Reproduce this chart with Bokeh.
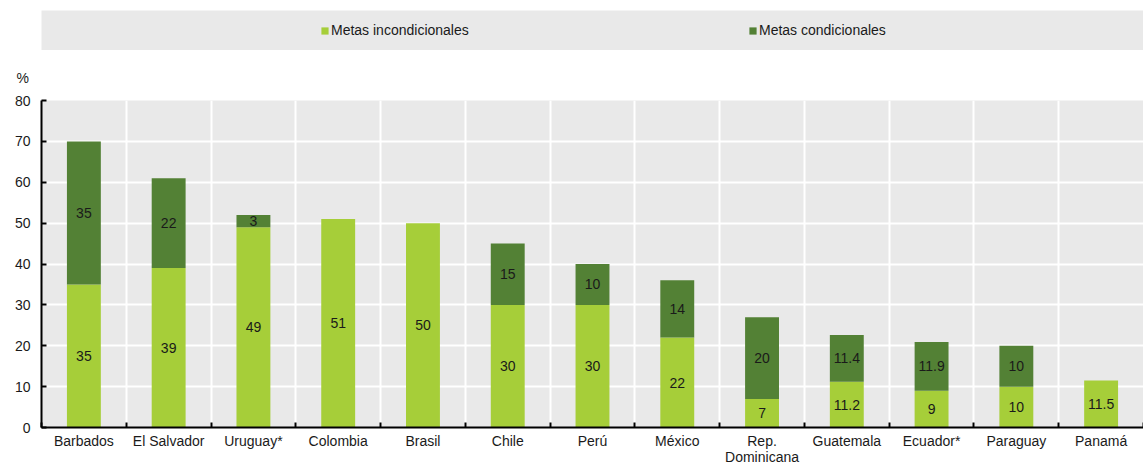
from bokeh.plotting import figure
from bokeh.models import (ColumnDataSource, FixedTicker, Legend, LegendItem,
                          LinearAxis, Grid)
from bokeh.layouts import column
from bokeh.core.properties import value
from bokeh.embed import file_html
from bokeh.resources import INLINE

countries = ["Barbados", "El Salvador", "Uruguay*", "Colombia", "Brasil", "Chile", "Perú",
             "México", "Rep.\nDominicana", "Guatemala", "Ecuador*", "Paraguay", "Panamá"]
unconditional = [35, 39, 49, 51, 50, 30, 30, 22, 7, 11.2, 9, 10, 11.5]
conditional = [35, 22, 3, 0, 0, 15, 10, 14, 20, 11.4, 11.9, 10, 0]
y_ticks = [0, 10, 20, 30, 40, 50, 60, 70, 80]
series_names = ["Metas incondicionales", "Metas condicionales"]

LIGHT = "#a6ce39"
DARK = "#538135"
BG = "#e9e9e9"
FONT = "Liberation Sans, Arial, sans-serif"
TXT = "#1a1a1a"

n = len(countries)
xs = list(range(n))
boundaries = [i - 0.5 for i in range(n + 1)]

src = ColumnDataSource(dict(x=xs, inc=unconditional, cond=conditional))

p = figure(width=1143, height=418, x_range=(-0.5, n - 0.5), y_range=(0, 80),
           output_backend="svg", toolbar_location=None,
           x_axis_type=None, y_axis_type=None,
           min_border_left=41, min_border_right=0, min_border_top=50, min_border_bottom=40,
           background_fill_color=BG, border_fill_color="white", outline_line_color=None)

# grids
p.add_layout(Grid(dimension=0, ticker=FixedTicker(ticks=boundaries[1:-1]),
                  grid_line_color="white", grid_line_width=2))
p.add_layout(Grid(dimension=1, ticker=FixedTicker(ticks=y_ticks),
                  grid_line_color="white", grid_line_width=2))

p.vbar_stack(["inc", "cond"], x="x", width=0.4, color=[LIGHT, DARK],
             line_color=None, source=src)

# value labels
lx, ly, lt = [], [], []
for i in range(n):
    u, c = unconditional[i], conditional[i]
    if u:
        lx.append(xs[i]); ly.append(u / 2); lt.append(f"{u:g}")
    if c:
        lx.append(xs[i]); ly.append(u + c / 2); lt.append(f"{c:g}")
lsrc = ColumnDataSource(dict(x=lx, y=ly, t=lt))
p.text(x="x", y="y", text="t", source=lsrc, text_align="center", text_baseline="middle",
       text_font=value(FONT), text_font_size="14px", text_color=TXT)

# axes
xaxis = LinearAxis(ticker=FixedTicker(ticks=xs, minor_ticks=boundaries),
                   major_label_overrides={i: c for i, c in enumerate(countries)},
                   major_tick_in=0, major_tick_out=0,
                   minor_tick_in=5, minor_tick_out=0,
                   minor_tick_line_color="black", minor_tick_line_width=2,
                   axis_line_color="black", axis_line_width=2,
                   major_label_standoff=5,
                   major_label_text_font=FONT, major_label_text_font_size="14px",
                   major_label_text_line_height=1.05,
                   major_label_text_color=TXT)
p.add_layout(xaxis, "below")

yaxis = LinearAxis(ticker=FixedTicker(ticks=y_ticks),
                   major_tick_in=5, major_tick_out=0,
                   major_tick_line_color="black", major_tick_line_width=2,
                   minor_tick_line_color=None,
                   axis_line_color="black", axis_line_width=2,
                   major_label_standoff=11,
                   major_label_text_font=FONT, major_label_text_font_size="14px",
                   major_label_text_color=TXT)
p.add_layout(yaxis, "left")

# "%" unit label as a left-aligned title shifted over the y tick labels
p.title.text = "%"
p.title.align = "left"
p.title.offset = -25
p.title.standoff = 30
p.title.text_font = FONT
p.title.text_font_size = "14px"
p.title.text_font_style = "normal"
p.title.text_color = TXT

# legend band
lp = figure(width=1143, height=50, x_range=p.x_range, y_range=(0, 1),
            output_backend="svg", toolbar_location=None,
            x_axis_type=None, y_axis_type=None,
            min_border_left=41, min_border_right=0, min_border_top=10, min_border_bottom=0,
            background_fill_color=BG, border_fill_color="white", outline_line_color=None)
r1 = lp.vbar(x=[0], top=[0], width=0.4, fill_color=LIGHT, line_color=None)
r2 = lp.vbar(x=[0], top=[0], width=0.4, fill_color=DARK, line_color=None)
legend = Legend(items=[LegendItem(label=series_names[0], renderers=[r1]),
                       LegendItem(label=series_names[1], renderers=[r2])],
                orientation="horizontal", location=(279, 10),
                glyph_width=9, glyph_height=9, label_standoff=2,
                label_width=407, label_height=20, spacing=10,
                padding=0, margin=0, border_line_color=None,
                background_fill_alpha=0,
                label_text_font=FONT, label_text_font_size="14px",
                label_text_color=TXT)
lp.add_layout(legend)

layout = column(lp, p)
open("out.html", "w").write(file_html(layout, INLINE))
